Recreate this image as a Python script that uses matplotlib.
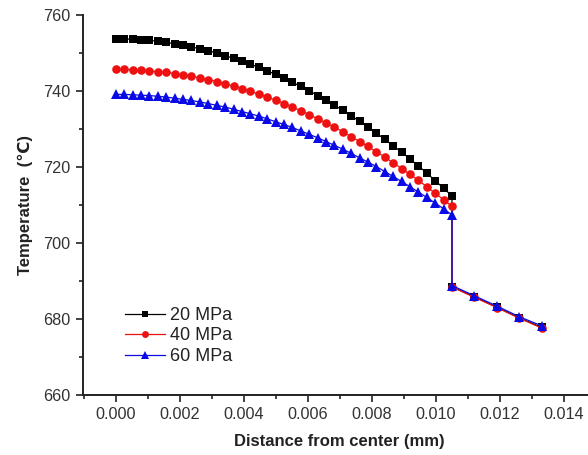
import matplotlib.pyplot as plt
from matplotlib.ticker import MultipleLocator

plt.rcParams['font.family'] = ['Liberation Sans', 'DejaVu Sans']

# --- data ---
# inner region: 41 points from the centre to x = 0.0105 mm
x_inner = [0.0, 0.0002625, 0.000525, 0.0007875, 0.00105, 0.0013125, 0.001575,
           0.0018375, 0.0021, 0.0023625, 0.002625, 0.0028875, 0.00315, 0.0034125,
           0.003675, 0.0039375, 0.0042, 0.0044625, 0.004725, 0.0049875, 0.00525,
           0.0055125, 0.005775, 0.0060375, 0.0063, 0.0065625, 0.006825, 0.0070875,
           0.00735, 0.0076125, 0.007875, 0.0081375, 0.0084, 0.0086625, 0.008925,
           0.0091875, 0.00945, 0.0097125, 0.009975, 0.0102375, 0.0105]
# outer region: 5 points after the step
x_outer = [0.0105, 0.0112, 0.0119, 0.0126, 0.0133]

t20_inner = [753.7, 753.7, 753.6, 753.5, 753.3, 753.1, 752.8, 752.4, 752.1, 751.6,
             751.1, 750.6, 750.0, 749.3, 748.6, 747.9, 747.1, 746.2, 745.3, 744.4,
             743.4, 742.3, 741.2, 740.1, 738.8, 737.6, 736.3, 734.9, 733.5, 732.0,
             730.5, 728.9, 727.3, 725.6, 723.9, 722.1, 720.3, 718.4, 716.4, 714.4,
             712.4]
t40_inner = [745.7, 745.7, 745.6, 745.5, 745.3, 745.1, 744.9, 744.6, 744.3, 743.9,
             743.4, 743.0, 742.5, 741.9, 741.3, 740.6, 739.9, 739.2, 738.4, 737.6,
             736.7, 735.8, 734.8, 733.8, 732.7, 731.6, 730.5, 729.3, 728.0, 726.7,
             725.4, 724.0, 722.6, 721.1, 719.6, 718.1, 716.5, 714.8, 713.1, 711.4,
             709.6]
t60_inner = [739.1, 739.1, 739.0, 738.9, 738.8, 738.6, 738.4, 738.1, 737.8, 737.5,
             737.1, 736.7, 736.2, 735.8, 735.2, 734.6, 734.0, 733.4, 732.7, 731.9,
             731.2, 730.4, 729.5, 728.6, 727.7, 726.7, 725.7, 724.7, 723.6, 722.4,
             721.3, 720.1, 718.8, 717.5, 716.2, 714.8, 713.4, 712.0, 710.5, 709.0,
             707.4]

t20_outer = [688.5, 685.8, 683.1, 680.3, 677.8]
t40_outer = [688.4, 685.7, 683.0, 680.2, 677.6]
t60_outer = [688.8, 686.1, 683.4, 680.6, 678.2]

labels = ['20 MPa', '40 MPa', '60 MPa']
x_ticks = [0.000, 0.002, 0.004, 0.006, 0.008, 0.010, 0.012, 0.014]
y_ticks = [660, 680, 700, 720, 740, 760]

series = [
    (t20_inner + t20_outer, 'black', 's', 5.6),
    (t40_inner + t40_outer, '#ee1111', 'o', 6.2),
    (t60_inner + t60_outer, '#0a0ae6', '^', 6.6),
]
x_all = x_inner + x_outer

fig = plt.figure(figsize=(5.88, 4.55), dpi=100)
fig.patch.set_facecolor('white')
ax = fig.add_axes([0.141, 0.132, 0.871, 0.835])

handles = []
for (t, col, mk, ms), lab in zip(series, labels):
    ln, = ax.plot(x_all, t, color=col, marker=mk, markersize=ms, linewidth=0.9,
                  markeredgewidth=0, label=lab)
    handles.append(ln)

ax.set_xlim(-0.00103, 0.01497)
ax.set_ylim(660, 760)
ax.set_xticks(x_ticks)
ax.set_xticklabels([f'{v:.3f}' for v in x_ticks])
ax.set_yticks(y_ticks)
ax.xaxis.set_minor_locator(MultipleLocator(0.001))
ax.yaxis.set_minor_locator(MultipleLocator(10))

ax.spines['top'].set_visible(False)
ax.spines['right'].set_visible(False)
for s in ('left', 'bottom'):
    ax.spines[s].set_linewidth(1.4)
    ax.spines[s].set_color('#222222')
ax.tick_params(which='major', direction='out', length=5, width=1.2,
               labelsize=11.7, labelcolor='#333333', color='#222222', pad=4)
ax.tick_params(which='minor', direction='out', length=3, width=1.2,
               color='#222222')

ax.set_xlabel('Distance from center (mm)', fontsize=12, fontweight='bold',
              color='#222222', labelpad=8)
ax.set_ylabel('Temperature  (\u2103)', fontsize=12, fontweight='bold',
              color='#222222', labelpad=7)

leg = ax.legend(handles=handles, loc='center left',
                bbox_to_anchor=(125 / 588, 1 - 336 / 455),
                bbox_transform=fig.transFigure, frameon=False,
                fontsize=13, handlelength=2.2, handletextpad=0.3,
                labelspacing=0.2, borderpad=0, borderaxespad=0, markerscale=0.8)
for txt in leg.get_texts():
    txt.set_color('#222222')

fig.savefig('out.png', dpi=100, facecolor='white')
plt.close(fig)
